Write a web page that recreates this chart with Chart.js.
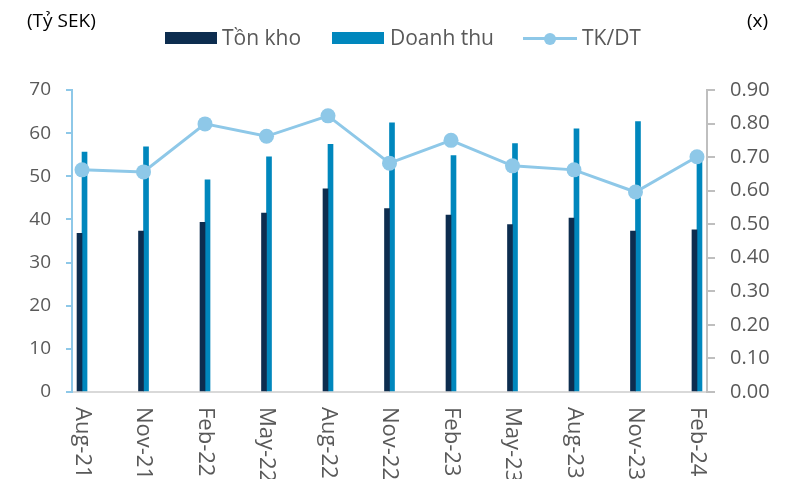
<!DOCTYPE html>
<html>
<head>
<meta charset="utf-8">
<script src="https://cdn.jsdelivr.net/npm/chart.js@4"></script>
<style>
  html, body { margin: 0; padding: 0; background: #fff; }
  #wrap { position: relative; width: 805px; height: 479px; font-family: "Open Sans", sans-serif; }
  canvas { position: absolute; left: 0; top: 0; }
  .t { position: absolute; white-space: nowrap; line-height: 1; }
  .unit { font-size: 19px; color: #000; top: 11px; }
  .lg { font-size: 21px; color: #595959; top: 27px; }
  .box { position: absolute; top: 32px; width: 52px; height: 12px; }
  .lline { position: absolute; left: 523px; top: 37px; width: 54px; height: 3px; background: #8ec8e8; }
  .ldot { position: absolute; left: 544px; top: 33px; width: 12px; height: 12px; border-radius: 50%; background: #8ec8e8; }
</style>
</head>
<body>
<div id="wrap">
  <canvas id="c" width="805" height="479"></canvas>
  <div class="t unit" style="left:27px">(Tỷ SEK)</div>
  <div class="t unit" style="left:747px">(x)</div>
  <div class="box" style="left:165px;background:#0d2d4f"></div>
  <div class="t lg" style="left:222px">Tồn kho</div>
  <div class="box" style="left:332px;background:#0087bd"></div>
  <div class="t lg" style="left:390px">Doanh thu</div>
  <div class="lline"></div><div class="ldot"></div>
  <div class="t lg" style="left:582px">TK/DT</div>
</div>
<script>
const categories = ["Aug-21","Nov-21","Feb-22","May-22","Aug-22","Nov-22","Feb-23","May-23","Aug-23","Nov-23","Feb-24"];
const tonKho   = [36.8, 37.3, 39.3, 41.5, 47.1, 42.5, 41.0, 38.8, 40.3, 37.3, 37.6];
const doanhThu = [55.6, 56.8, 49.2, 54.5, 57.4, 62.4, 54.8, 57.6, 61.0, 62.7, 53.6];
const tkdt     = [0.662, 0.656, 0.799, 0.762, 0.823, 0.682, 0.750, 0.674, 0.662, 0.596, 0.701];

const pts = arr => arr.map((v, i) => ({ x: i, y: v }));

const xLabels = {
  id: 'xLabels',
  afterDraw(chart) {
    const ctx = chart.ctx, xs = chart.scales.x;
    ctx.save();
    ctx.font = '22px "Open Sans"';
    ctx.fillStyle = '#595959';
    ctx.textAlign = 'left';
    ctx.textBaseline = 'middle';
    categories.forEach((lab, i) => {
      const px = xs.getPixelForValue(i);
      ctx.save();
      ctx.translate(px, 407);
      ctx.rotate(Math.PI / 2);
      ctx.fillText(lab, 0, 0);
      ctx.restore();
    });
    ctx.restore();
  }
};

Chart.defaults.font.family = '"Open Sans", sans-serif';

new Chart(document.getElementById('c'), {
  type: 'bar',
  data: {
    datasets: [
      { type: 'line', label: 'TK/DT', data: pts(tkdt), yAxisID: 'y1', order: 0,
        borderColor: '#8ec8e8', backgroundColor: '#8ec8e8', borderWidth: 3,
        pointRadius: 7.5, pointBorderWidth: 0, pointBackgroundColor: '#8ec8e8', tension: 0 },
      { label: 'Tồn kho', data: pts(tonKho), yAxisID: 'y', order: 1,
        backgroundColor: '#0d2d4f', barThickness: 5 },
      { label: 'Doanh thu', data: pts(doanhThu), yAxisID: 'y', order: 1,
        backgroundColor: '#0087bd', barThickness: 5 }
    ]
  },
  options: {
    responsive: false,
    animation: false,
    layout: { padding: { top: 90, left: 0, right: 0, bottom: 0 } },
    plugins: { legend: { display: false }, tooltip: { enabled: false } },
    scales: {
      x: {
        type: 'linear', min: -0.163, max: 10.163, offset: false,
        ticks: { display: false },
        grid: { display: false, offset: false },
        border: { color: '#d9d9d9', width: 2 },
        afterFit: s => { s.height = 87; }
      },
      y: {
        position: 'left', min: 0, max: 70,
        ticks: { stepSize: 10, color: '#595959', font: { size: 19 }, padding: 15 },
        grid: { drawOnChartArea: false, drawTicks: true, tickLength: 6, color: '#8ec8e8', lineWidth: 2 },
        border: { color: '#8ec8e8', width: 2 },
        afterFit: s => { s.width = 72; }
      },
      y1: {
        position: 'right', min: 0, max: 0.9,
        ticks: { stepSize: 0.1, color: '#595959', font: { size: 20 }, padding: 15,
                 callback: v => Number(v).toFixed(2) },
        grid: { drawOnChartArea: false, drawTicks: true, tickLength: 8, color: '#bfbfbf', lineWidth: 2 },
        border: { color: '#bfbfbf', width: 2 },
        afterFit: s => { s.width = 98; }
      }
    }
  },
  plugins: [xLabels]
});
</script>
</body>
</html>
